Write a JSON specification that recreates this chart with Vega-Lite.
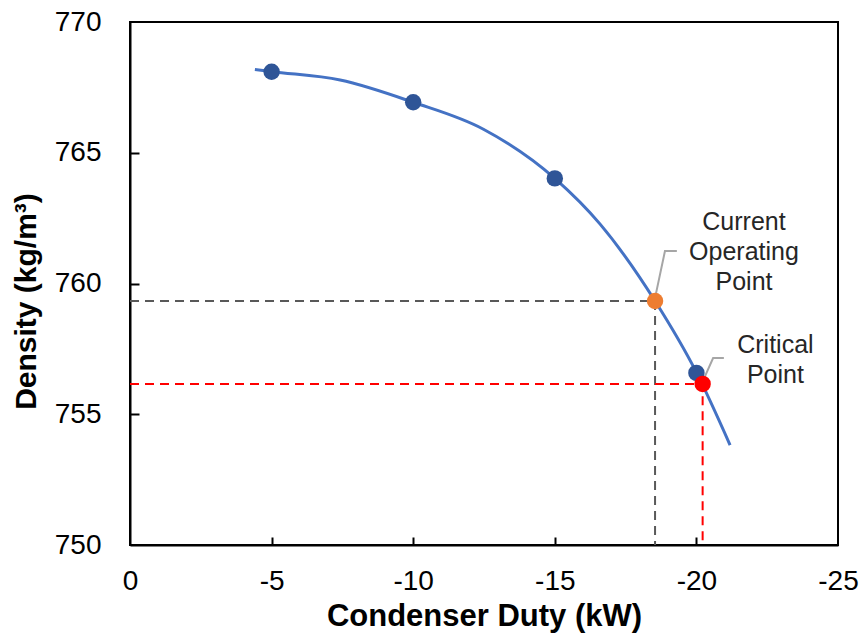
{
  "$schema": "https://vega.github.io/schema/vega-lite/v6.json",
  "width": 708,
  "height": 523,
  "autosize": {"type": "none"},
  "padding": {"left": 130, "top": 22, "right": 24, "bottom": 97},
  "background": "white",
  "config": {
    "view": {"stroke": "black", "strokeWidth": 2},
    "font": "Liberation Sans"
  },
  "datasets": {
    "curve": [
      {"duty": -4.41, "density": 768.18},
      {"duty": -5.0, "density": 768.10},
      {"duty": -7.42, "density": 767.78},
      {"duty": -10.0, "density": 766.93},
      {"duty": -12.48, "density": 765.90},
      {"duty": -15.0, "density": 764.02},
      {"duty": -16.6, "density": 762.27},
      {"duty": -18.54, "density": 759.33},
      {"duty": -20.0, "density": 756.60},
      {"duty": -21.19, "density": 753.82}
    ],
    "points": [
      {"duty": -5, "density": 768.1, "kind": "data"},
      {"duty": -10, "density": 766.93, "kind": "data"},
      {"duty": -15, "density": 764.02, "kind": "data"},
      {"duty": -20, "density": 756.58, "kind": "data"},
      {"duty": -18.54, "density": 759.33, "kind": "operating"},
      {"duty": -20.22, "density": 756.16, "kind": "critical"}
    ],
    "guides": [
      {"g": "operating", "o": 1, "duty": 0, "density": 759.33},
      {"g": "operating", "o": 2, "duty": -18.54, "density": 759.33},
      {"g": "operating", "o": 3, "duty": -18.54, "density": 750},
      {"g": "critical", "o": 1, "duty": 0, "density": 756.16},
      {"g": "critical", "o": 2, "duty": -20.22, "density": 756.16},
      {"g": "critical", "o": 3, "duty": -20.22, "density": 750}
    ],
    "leaders": [
      {"g": "operating", "o": 1, "duty": -18.54, "density": 759.45},
      {"g": "operating", "o": 2, "duty": -18.89, "density": 761.24},
      {"g": "operating", "o": 3, "duty": -19.31, "density": 761.24},
      {"g": "critical", "o": 1, "duty": -20.2, "density": 756.2},
      {"g": "critical", "o": 2, "duty": -20.59, "density": 757.15},
      {"g": "critical", "o": 3, "duty": -20.97, "density": 757.15}
    ],
    "xticks": [{"duty": -5}, {"duty": -10}, {"duty": -15}, {"duty": -20}],
    "yticks": [{"density": 755}, {"density": 760}, {"density": 765}],
    "notes": [
      {"label": "Current\nOperating\nPoint", "duty": -21.68, "density": 762.05},
      {"label": "Critical\nPoint", "duty": -22.79, "density": 757.34}
    ]
  },
  "resolve": {"axis": {"x": "independent", "y": "independent"}},
  "layer": [
    {
      "data": {"name": "xticks"},
      "mark": {"type": "rule", "strokeWidth": 0, "opacity": 0},
      "encoding": {
        "x": {
          "field": "duty",
          "type": "quantitative",
          "scale": {"domain": [-25, 0], "reverse": true, "nice": false, "zero": false},
          "axis": {
            "orient": "bottom",
            "offset": -8,
            "title": null,
            "values": [-5, -10, -15, -20],
            "labels": false,
            "domain": false,
            "grid": false,
            "ticks": true,
            "tickSize": 8,
            "tickWidth": 2,
            "tickColor": "black"
          }
        }
      }
    },
    {
      "data": {"name": "yticks"},
      "mark": {"type": "rule", "strokeWidth": 0, "opacity": 0},
      "encoding": {
        "y": {
          "field": "density",
          "type": "quantitative",
          "scale": {"domain": [750, 770], "nice": false, "zero": false},
          "axis": {
            "orient": "left",
            "offset": -9,
            "title": null,
            "values": [755, 760, 765],
            "labels": false,
            "domain": false,
            "grid": false,
            "ticks": true,
            "tickSize": 9,
            "tickWidth": 2,
            "tickColor": "black"
          }
        }
      }
    },
    {
      "encoding": {
        "x": {
          "field": "duty",
          "type": "quantitative",
          "scale": {"domain": [-25, 0], "reverse": true, "nice": false, "zero": false},
          "axis": {
            "orient": "bottom",
            "title": "Condenser Duty (kW)",
            "values": [0, -5, -10, -15, -20, -25],
            "labelExpr": "datum.value == 0 ? '0' : '-' + abs(datum.value)",
            "grid": false,
            "ticks": false,
            "domainColor": "black",
            "domainWidth": 2,
            "labelFont": "Liberation Sans",
            "labelFontSize": 28,
            "labelColor": "black",
            "labelBaseline": "top",
            "labelPadding": 22,
            "labelFlush": false,
            "titleFont": "Liberation Sans",
            "titleFontSize": 31,
            "titleFontWeight": "bold",
            "titleColor": "black",
            "titleX": 354,
            "titleY": 80,
            "titleAlign": "center",
            "titleBaseline": "alphabetic"
          }
        },
        "y": {
          "field": "density",
          "type": "quantitative",
          "scale": {"domain": [750, 770], "nice": false, "zero": false},
          "axis": {
            "orient": "left",
            "title": "Density (kg/m³)",
            "values": [750, 755, 760, 765, 770],
            "grid": false,
            "ticks": false,
            "domainColor": "black",
            "domainWidth": 2,
            "labelFont": "Liberation Sans",
            "labelFontSize": 28,
            "labelColor": "black",
            "labelPadding": 29,
            "labelFlush": false,
            "titleFont": "Liberation Sans",
            "titleFontSize": 30,
            "titleFontWeight": "bold",
            "titleColor": "black",
            "titleAngle": -90,
            "titleX": -95,
            "titleY": 279,
            "titleAlign": "center",
            "titleBaseline": "alphabetic"
          }
        }
      },
      "layer": [
        {
          "data": {"name": "guides"},
          "mark": {"type": "line", "strokeWidth": 2, "strokeDash": [9, 6]},
          "encoding": {
            "detail": {"field": "g"},
            "order": {"field": "o", "type": "quantitative"},
            "color": {
              "field": "g",
              "type": "nominal",
              "scale": {"domain": ["operating", "critical"], "range": ["#595959", "#FF0000"]},
              "legend": null
            }
          }
        },
        {
          "data": {"name": "curve"},
          "mark": {"type": "line", "color": "#4472C4", "strokeWidth": 3, "interpolate": "monotone"},
          "encoding": {}
        },
        {
          "data": {"name": "leaders"},
          "mark": {"type": "line", "color": "#A6A6A6", "strokeWidth": 2},
          "encoding": {
            "detail": {"field": "g"},
            "order": {"field": "o", "type": "quantitative"}
          }
        },
        {
          "data": {"name": "points"},
          "mark": {"type": "point", "filled": true, "opacity": 1, "size": 270},
          "encoding": {
            "fill": {
              "field": "kind",
              "type": "nominal",
              "scale": {"domain": ["data", "operating", "critical"], "range": ["#2F5597", "#ED7D31", "#FF0000"]},
              "legend": null
            }
          }
        },
        {
          "data": {"name": "notes"},
          "mark": {
            "type": "text",
            "font": "Liberation Sans",
            "fontSize": 25,
            "color": "#262626",
            "align": "center",
            "baseline": "alphabetic",
            "lineBreak": "\n",
            "lineHeight": 30
          },
          "encoding": {
            "text": {"field": "label"}
          }
        }
      ]
    }
  ]
}
